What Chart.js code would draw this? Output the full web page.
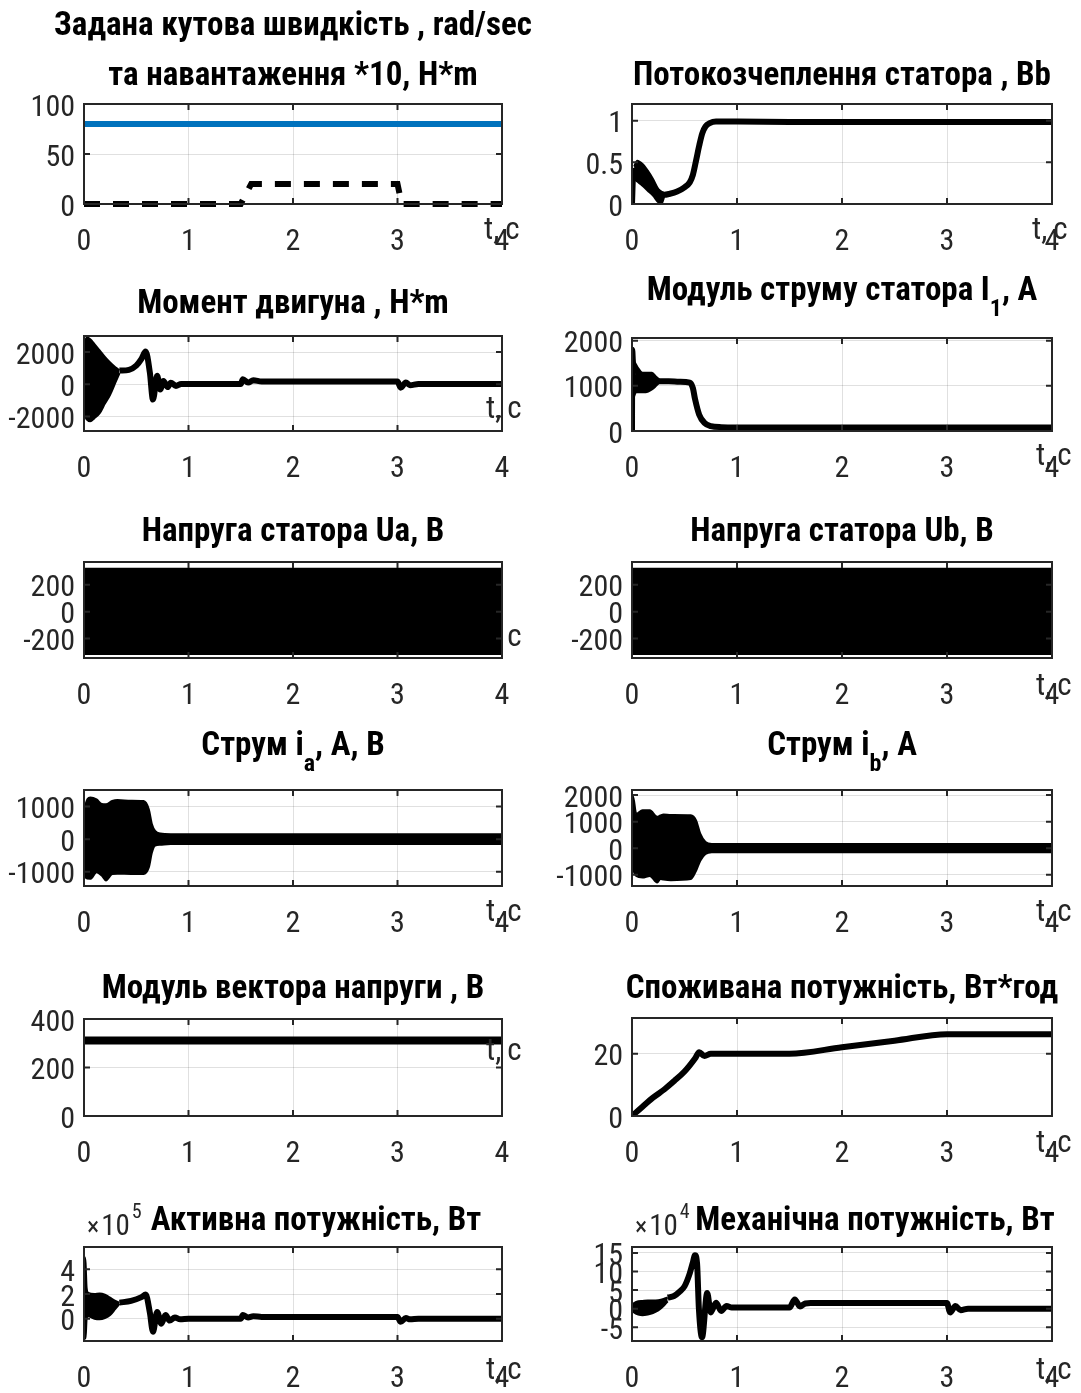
<!DOCTYPE html>
<html>
<head>
<meta charset="utf-8">
<script src="https://cdn.jsdelivr.net/npm/chart.js@4.4.1/dist/chart.umd.min.js"></script>
<style>
  body { margin: 0; background: #fff; }
  #fig { position: relative; width: 1081px; height: 1393px; overflow: hidden; background: #fff; }
  #fig canvas { position: absolute; }
</style>
</head>
<body>
<div id="fig"></div>
<script>
// часова вісь, c
const xTicks = [0, 1, 2, 3, 4];

// 1. задана швидкість і навантаження *10
const tSet = [0, 4];
const speedRef = [80, 80];
const tLoad = [0, 1.5, 1.6, 3.0, 3.04, 4];
const loadRef = [0, 0, 20, 20, 0, 0];

// 2. потокозчеплення статора
const tFluxBand = [0.02, 0.05, 0.1, 0.15, 0.2, 0.25, 0.28, 0.31];
const fluxUpper = [0.45, 0.52, 0.48, 0.4, 0.3, 0.18, 0.14, 0.13];
const fluxLower = [0.3, 0.27, 0.22, 0.16, 0.1, 0.02, 0.0, 0.1];
const tFlux = [0, 0.01, 0.02, 0.31, 0.35, 0.43, 0.5, 0.55, 0.58, 0.61, 0.64, 0.67, 0.7, 0.74, 0.8, 1.0, 1.5, 4];
const flux = [0, 0.35, 0.4, 0.11, 0.12, 0.15, 0.2, 0.26, 0.35, 0.52, 0.7, 0.85, 0.93, 0.97, 0.99, 0.99, 0.985, 0.985];

// 3. момент двигуна
const tTqBand = [0, 0.01, 0.03, 0.06, 0.1, 0.15, 0.2, 0.25, 0.3, 0.34];
const tqUpper = [0, 2600, 2900, 2800, 2500, 2100, 1700, 1350, 1050, 870];
const tqLower = [0, -1800, -2200, -2300, -2100, -1800, -1200, -650, 100, 700];
const tTq = [0.34, 0.43, 0.5, 0.55, 0.59, 0.63, 0.66, 0.7, 0.73, 0.76, 0.8, 0.83, 0.88, 0.93, 1.5, 1.52, 1.57, 1.62, 1.7, 3.0, 3.03, 3.08, 3.12, 3.2, 4];
const torque = [850, 900, 1160, 1580, 2040, 740, -950, 530, -320, 210, -170, 100, -100, 20, 20, 315, 105, 250, 170, 170, -210, 105, -60, 20, 20];

// 4. модуль струму статора
const tI1Band = [0.01, 0.04, 0.09, 0.13, 0.19, 0.23, 0.27];
const i1Upper = [1800, 1250, 1290, 1290, 1290, 1200, 1120];
const i1Lower = [700, 860, 860, 860, 920, 1000, 1090];
const tI1 = [0, 0.002, 0.01, 0.27, 0.35, 0.45, 0.55, 0.58, 0.6, 0.64, 0.69, 0.75, 0.85, 1.0, 4];
const i1 = [0, 1800, 1500, 1100, 1100, 1090, 1070, 950, 710, 360, 180, 110, 85, 80, 80];

// 5-6. напруга статора Ua, Ub (огинаюча)
const tU = [0, 4];
const uaUpper = [320, 320];
const uaLower = [-315, -315];
const ubUpper = [320, 320];
const ubLower = [-315, -315];

// 7. струм ia (огинаюча)
const tIa = [0, 0.01, 0.06, 0.12, 0.17, 0.21, 0.27, 0.32, 0.45, 0.57, 0.62, 0.65, 0.68, 0.73, 0.83, 4];
const iaUpper = [0, 970, 1280, 1220, 1080, 1070, 1170, 1200, 1180, 1170, 920, 460, 255, 170, 150, 150];
const iaLower = [0, -1170, -1220, -1020, -1120, -1270, -1070, -1060, -1070, -1070, -870, -410, -200, -170, -150, -150];

// 8. струм ib (огинаюча)
const tIb = [0, 0.005, 0.01, 0.04, 0.1, 0.17, 0.24, 0.27, 0.3, 0.37, 0.56, 0.61, 0.65, 0.7, 0.76, 4];
const ibUpper = [0, 1500, 1950, 1300, 1430, 1430, 1180, 1230, 1270, 1250, 1240, 1050, 545, 230, 160, 160];
const ibLower = [0, -500, -720, -1040, -1100, -1040, -1290, -1160, -1180, -1200, -1160, -850, -470, -215, -150, -150];

// 9. модуль вектора напруги
const tUm = [0, 4];
const uMod = [311, 311];

// 10. спожита енергія, Вт*год
const tW = [0, 0.1, 0.2, 0.31, 0.4, 0.5, 0.6, 0.64, 0.69, 0.75, 1.0, 1.5, 2.0, 2.5, 3.0, 3.05, 4];
const energy = [0, 3, 5.9, 8.6, 11.2, 14.3, 18.5, 20.5, 19.3, 20, 20, 20, 22.1, 24.2, 26.3, 26.3, 26.3];

// 11. активна потужність, x10^5 Вт
const tPBand = [0, 0.005, 0.015, 0.025, 0.04, 0.1, 0.15, 0.2, 0.25, 0.3, 0.34];
const pUpper = [0, 5.0, 4.5, 2.5, 2.1, 2.0, 2.05, 1.95, 1.7, 1.45, 1.3];
const pLower = [0, -1.5, -1.6, 0.0, 0.2, 0.0, -0.05, 0.05, 0.3, 0.8, 1.2];
const tP = [0.34, 0.45, 0.55, 0.59, 0.63, 0.66, 0.7, 0.74, 0.78, 0.82, 0.87, 0.92, 1.0, 1.5, 1.52, 1.57, 1.62, 1.7, 3.0, 3.03, 3.08, 3.12, 3.2, 4];
const pAct = [1.3, 1.45, 1.75, 1.95, 0.5, -1.05, 0.55, -0.4, 0.3, -0.15, 0.1, -0.05, 0, 0, 0.3, 0.1, 0.2, 0.15, 0.15, -0.25, 0.05, -0.05, 0, 0];

// 12. механічна потужність, x10^4 Вт
const tPmBand = [0, 0.02, 0.06, 0.1, 0.15, 0.2, 0.25, 0.3, 0.34];
const pmUpper = [1.0, 1.5, 2.0, 2.1, 2.2, 2.2, 2.3, 2.6, 3.0];
const pmLower = [-0.3, -1.0, -1.6, -1.8, -1.6, -1.2, -0.5, 0.7, 2.0];
const tPm = [0.34, 0.4, 0.45, 0.5, 0.55, 0.58, 0.6, 0.62, 0.637, 0.667, 0.716, 0.75, 0.8, 0.85, 0.9, 0.95, 1.5, 1.55, 1.6, 1.65, 1.7, 3.0, 3.03, 3.08, 3.13, 3.2, 4];
const pMech = [3.0, 3.4, 4.5, 6.0, 9.5, 12.5, 14.4, 12, 0, -7.7, 4.2, -1.0, 1.6, -0.6, 0.7, 0.3, 0.3, 2.5, 0.6, 1.4, 1.5, 1.5, -1.0, 0.7, -0.4, 0, 0];

const FONT = "'Liberation Sans Narrow', 'Roboto Condensed', 'Liberation Sans', Arial, sans-serif";
const INK = '#262626';
const Y_W = 80, X_H = 54, PAD_T = 110, PAD_R = 40;
const TICK_PX = 30, TITLE_PX = 33;

function line(t, v, opts) {
  return Object.assign({
    data: t.map((x, i) => ({ x: x, y: v[i] })),
    borderColor: '#000', borderWidth: 6, pointRadius: 0, fill: false,
    cubicInterpolationMode: 'monotone'
  }, opts || {});
}
function band(t, hi, lo) {
  return [
    line(t, hi, { fill: '+1', backgroundColor: '#000', borderWidth: 2 }),
    line(t, lo, { borderWidth: 2 })
  ];
}

// розташування панелей: [ліво, верх, право, низ] області осей
const panels = [
  { box: [84, 104, 502, 204], y: [0, 100], yTicks: [0, 50, 100],
    title: [['Задана кутова швидкість , rad/sec', -77], ['та навантаження *10, H*m', -27]],
    tc: [-18, 27],
    sets: [line(tSet, speedRef, { borderColor: '#0072BD', borderWidth: 6 }),
           line(tLoad, loadRef, { borderDash: [16, 13], borderWidth: 6, cubicInterpolationMode: 'default', clip: 8 })] },
  { box: [632, 104, 1052, 204], y: [0, 1.2], yTicks: [0, 0.5, 1],
    title: [['Потокозчеплення статора , Bb', -27]], tc: [-20, 27],
    sets: [...band(tFluxBand, fluxUpper, fluxLower), line(tFlux, flux)] },
  { box: [84, 336, 502, 431], y: [-2900, 3000], yTicks: [-2000, 0, 2000],
    title: [['Момент двигуна , H*m', -31]], tc: [-16, -21],
    sets: [...band(tTqBand, tqUpper, tqLower), line(tTq, torque)] },
  { box: [632, 338, 1052, 431], y: [0, 2060], yTicks: [0, 1000, 2000],
    title: [['Модуль струму статора I_1, A', -46]], tc: [-16, 26],
    sets: [...band(tI1Band, i1Upper, i1Lower), line(tI1, i1)] },
  { box: [84, 562, 502, 658], y: [-345, 370], yTicks: [-200, 0, 200],
    title: [['Напруга статора Ua, B', -29]], tc: [-16, -20], tcBehind: true,
    sets: band(tU, uaUpper, uaLower) },
  { box: [632, 562, 1052, 658], y: [-345, 370], yTicks: [-200, 0, 200],
    title: [['Напруга статора Ub, B', -29]], tc: [-16, 29],
    sets: band(tU, ubUpper, ubLower) },
  { box: [84, 790, 502, 886], y: [-1440, 1510], yTicks: [-1000, 0, 1000],
    title: [['Струм i_a, A, B', -43]], tc: [-16, 27],
    sets: band(tIa, iaUpper, iaLower) },
  { box: [632, 790, 1052, 886], y: [-1420, 2190], yTicks: [-1000, 0, 1000, 2000],
    title: [['Струм i_b, A', -43]], tc: [-16, 27],
    sets: band(tIb, ibUpper, ibLower) },
  { box: [84, 1019, 502, 1116], y: [0, 400], yTicks: [0, 200, 400],
    title: [['Модуль вектора напруги , B', -29]], tc: [-16, -64],
    sets: [line(tUm, uMod, { borderWidth: 8 })] },
  { box: [632, 1018, 1052, 1116], y: [0, 31.5], yTicks: [0, 20],
    title: [['Споживана потужність, Вт*год', -28]], tc: [-16, 28],
    sets: [line(tW, energy, { borderWidth: 6 })] },
  { box: [84, 1247, 502, 1341], y: [-1.8, 5.8], yTicks: [0, 2, 4],
    title: [['Активна потужність, Вт', -25, 23]], tc: [-16, 30], exp: '5',
    sets: [...band(tPBand, pUpper, pLower), line(tP, pAct)] },
  { box: [632, 1247, 1052, 1341], y: [-8.7, 16.6], yTicks: [-5, 0, 5, 10, 15],
    title: [['Механічна потужність, Вт', -25, 33]], tc: [-16, 30], exp: '4',
    sets: [...band(tPmBand, pmUpper, pmLower), line(tPm, pMech)] }
];

function drawTitle(ctx, text, cx, cy, size) {
  const parts = text.split(/_(.)/);
  const big = 'bold ' + size + 'px ' + FONT, small = 'bold ' + Math.round(size * 0.72) + 'px ' + FONT;
  let total = 0;
  parts.forEach((s, i) => { ctx.font = i % 2 ? small : big; total += ctx.measureText(s).width; });
  let x = cx - total / 2;
  ctx.textAlign = 'left';
  ctx.textBaseline = 'middle';
  ctx.fillStyle = '#000';
  parts.forEach((s, i) => {
    ctx.font = i % 2 ? small : big;
    ctx.fillText(s, x, i % 2 ? cy + size * 0.55 : cy);
    x += ctx.measureText(s).width;
  });
}

function drawTc(chart, p) {
  const ctx = chart.ctx, a = chart.chartArea;
  ctx.save();
  ctx.font = '31px ' + FONT;
  ctx.fillStyle = INK;
  ctx.textAlign = 'left';
  ctx.textBaseline = 'middle';
  // "t," і "c" трохи рознесені, як у MATLAB
  const x0 = a.right + p.tc[0], y0 = a.bottom + p.tc[1];
  ctx.fillText('t,', x0, y0);
  ctx.fillText('c', x0 + ctx.measureText('t,').width + 6, y0);
  ctx.restore();
}

function decor(p) {
  return {
    id: 'decor',
    beforeDatasetsDraw(chart) { if (p.tcBehind) drawTc(chart, p); },
    afterDraw(chart) {
      const ctx = chart.ctx, a = chart.chartArea;
      const xs = chart.scales.x, ys = chart.scales.y;
      ctx.save();
      // рамка осей
      ctx.strokeStyle = INK;
      ctx.lineWidth = 2;
      ctx.strokeRect(a.left, a.top, a.right - a.left, a.bottom - a.top);
      // внутрішні поділки
      ctx.beginPath();
      xTicks.forEach(v => {
        const px = xs.getPixelForValue(v);
        ctx.moveTo(px, a.bottom); ctx.lineTo(px, a.bottom - 6);
        ctx.moveTo(px, a.top); ctx.lineTo(px, a.top + 6);
      });
      p.yTicks.forEach(v => {
        const py = ys.getPixelForValue(v);
        ctx.moveTo(a.left, py); ctx.lineTo(a.left + 6, py);
        ctx.moveTo(a.right, py); ctx.lineTo(a.right - 6, py);
      });
      ctx.stroke();
      ctx.restore();
      ctx.save();
      const cx = (a.left + a.right) / 2;
      p.title.forEach(tl => drawTitle(ctx, tl[0], cx + (tl[2] || 0), a.top + tl[1], TITLE_PX));
      if (p.exp) {
        ctx.fillStyle = INK;
        ctx.textBaseline = 'alphabetic';
        ctx.textAlign = 'left';
        ctx.font = '26px ' + FONT;
        ctx.fillText('\u00d7', a.left + 3, a.top - 12);
        const w0 = ctx.measureText('\u00d7').width + 2;
        ctx.font = '29px ' + FONT;
        ctx.fillText('10', a.left + 3 + w0, a.top - 12);
        const w1 = ctx.measureText('10').width;
        ctx.font = '20px ' + FONT;
        ctx.fillText(p.exp, a.left + 5 + w0 + w1, a.top - 29);
      }
      ctx.restore();
      if (!p.tcBehind) drawTc(chart, p);
    }
  };
}

function makePanel(p) {
  const [L, T, R, B] = p.box;
  const cv = document.createElement('canvas');
  cv.width = Y_W + (R - L) + PAD_R;
  cv.height = PAD_T + (B - T) + X_H;
  cv.style.left = (L - Y_W) + 'px';
  cv.style.top = (T - PAD_T) + 'px';
  document.getElementById('fig').appendChild(cv);
  new Chart(cv.getContext('2d'), {
    type: 'line',
    data: { datasets: p.sets },
    options: {
      responsive: false,
      animation: false,
      layout: { padding: { top: PAD_T, right: PAD_R, left: 0, bottom: 0 } },
      plugins: { legend: { display: false }, tooltip: { enabled: false }, title: { display: false } },
      scales: {
        x: {
          type: 'linear', min: 0, max: 4,
          afterBuildTicks: s => { s.ticks = xTicks.map(v => ({ value: v })); },
          afterFit: s => { s.height = X_H; },
          grid: { color: 'rgba(0,0,0,0.12)', lineWidth: 1, drawTicks: false },
          border: { display: false },
          ticks: { color: INK, font: { family: FONT, size: TICK_PX }, padding: 20, maxRotation: 0, autoSkip: false,
                   callback: v => String(v) }
        },
        y: {
          type: 'linear', min: p.y[0], max: p.y[1],
          afterBuildTicks: s => { s.ticks = p.yTicks.map(v => ({ value: v })); },
          afterFit: s => { s.width = Y_W; },
          grid: { color: 'rgba(0,0,0,0.12)', lineWidth: 1, drawTicks: false },
          border: { display: false },
          ticks: { color: INK, font: { family: FONT, size: TICK_PX }, padding: 9, autoSkip: false, labelOffset: 4,
                   callback: v => String(v) }
        }
      }
    },
    plugins: [decor(p)]
  });
}

panels.forEach(makePanel);
</script>
</body>
</html>
